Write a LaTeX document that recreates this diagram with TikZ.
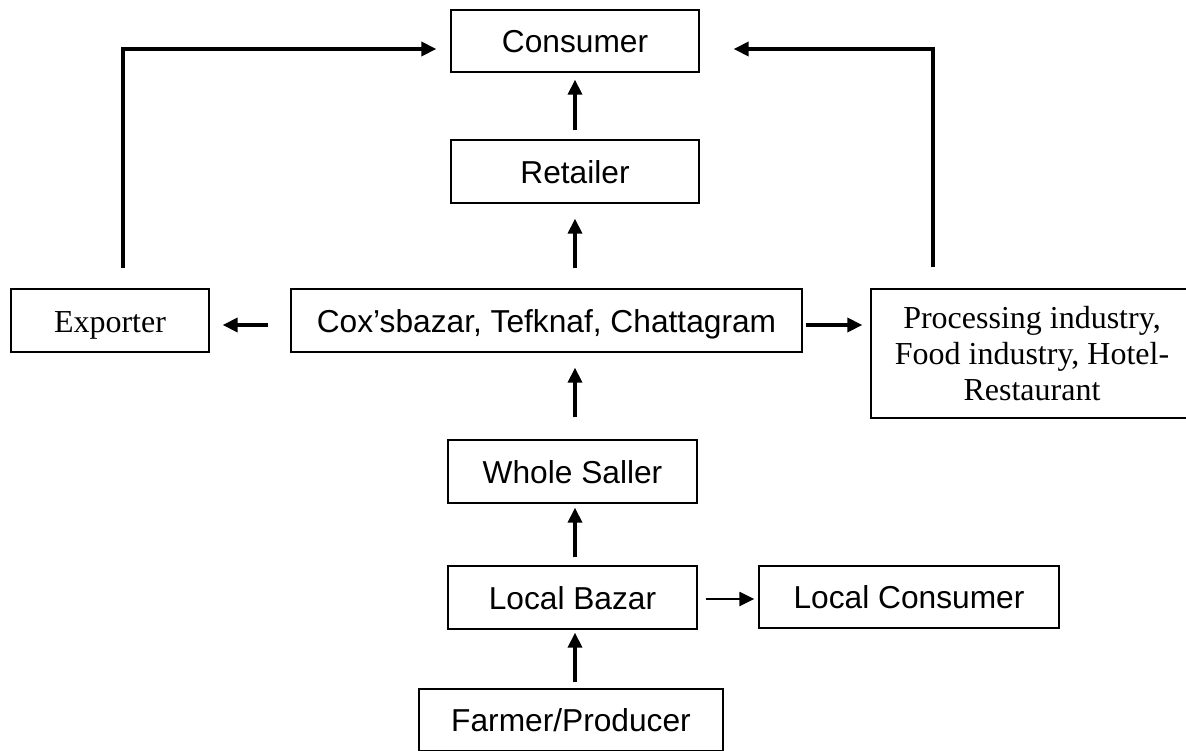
\documentclass[tikz,border=0pt]{standalone}
\usepackage{fontspec}
\setmainfont{Liberation Sans}
\newfontfamily\timesfont{Liberation Serif}
\usetikzlibrary{arrows.meta}

\begin{document}
\begin{tikzpicture}[x=1pt,y=-1pt,
            box/.style={draw, line width=1.3pt, inner sep=0pt, text height=23pt, text depth=0pt, font=\fontsize{31.7}{36.3}\selectfont},
            serifbox/.style={box, font=\fontsize{32}{36.3}\timesfont},
            arr/.style={line width=3.5pt, -{Triangle[length=15pt,width=14pt]}},
            thinarr/.style={line width=2.3pt, -{Triangle[length=15pt,width=14pt]}}]
        \useasboundingbox (0,0) rectangle (1186,750);

        \node[box, minimum width=248pt, minimum height=62pt] (con) at (575,41) {Consumer};
        \node[box, minimum width=248pt, minimum height=63pt] (ret) at (575,171.5) {Retailer};
        \node[box, minimum width=511pt, minimum height=63pt] (cox) at (546.5,320.5) {Cox’sbazar, Tefknaf, Chattagram};
        \node[serifbox, minimum width=198pt, minimum height=63pt] (exp) at (110,320.5) {Exporter};
        \node[draw, line width=1.3pt, inner sep=0pt, align=center, font=\fontsize{32}{36.3}\timesfont,
              minimum width=322pt, minimum height=129pt] (proc) at (1032,353.5) {Processing industry,\\Food industry, Hotel-\\Restaurant};
        \node[box, minimum width=249pt, minimum height=63pt] (ws) at (572.5,471.5) {Whole Saller};
        \node[box, minimum width=249pt, minimum height=63pt] (lb) at (572.5,597.5) {Local Bazar};
        \node[box, minimum width=300pt, minimum height=62pt] (lc) at (909,597) {Local Consumer};
        \node[box, minimum width=304pt, minimum height=62pt] (farm) at (571,720) {Farmer/Producer};

        \coordinate (spine) at (575,0);
        \coordinate (midrow) at (0,325);
        \coordinate (lrow) at (0,599);
        \coordinate (turnL) at (123,49);
        \coordinate (turnR) at (933,49);

        \draw[arr, shorten <=9pt, shorten >=7pt] (spine |- ret.north) -- (spine |- con.south);
        \draw[arr, shorten <=20pt, shorten >=15pt] (spine |- cox.north) -- (spine |- ret.south);
        \draw[arr, shorten <=22pt, shorten >=15pt] (spine |- ws.north) -- (spine |- cox.south);
        \draw[arr, shorten <=8pt, shorten >=4pt] (spine |- lb.north) -- (spine |- ws.south);
        \draw[arr, shorten <=6pt, shorten >=3pt] (spine |- farm.north) -- (spine |- lb.south);

        \draw[arr, shorten <=22pt, shorten >=13pt] (midrow -| cox.west) -- (midrow -| exp.east);
        \draw[arr, shorten <=3pt, shorten >=8pt] (midrow -| cox.east) -- (midrow -| proc.west);
        \draw[thinarr, shorten <=8pt, shorten >=4pt] (lrow -| lb.east) -- (lrow -| lc.west);

        \draw[arr, shorten <=20pt, shorten >=14pt] (turnL |- exp.north) |- (con.west |- turnL);
        \draw[arr, shorten <=21pt, shorten >=34pt] (turnR |- proc.north) |- (con.east |- turnR);
    \end{tikzpicture}
\end{document}
